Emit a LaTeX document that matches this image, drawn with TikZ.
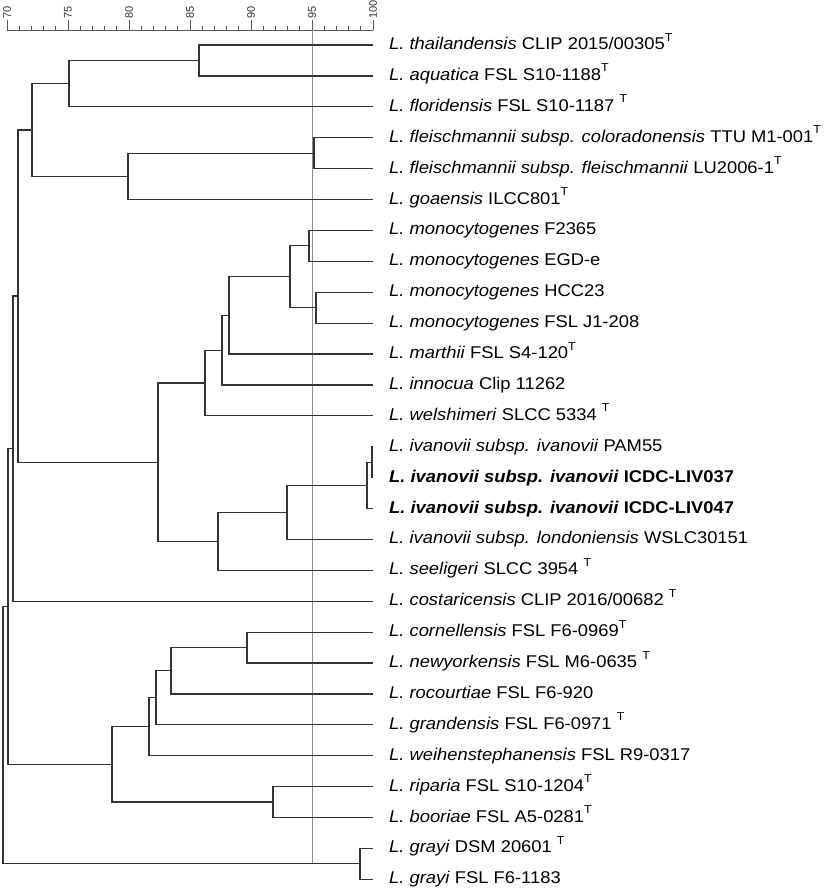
\documentclass[tikz,border=0pt]{standalone}
\usepackage{fontspec}
\setmainfont[FakeStretch=1.08]{Liberation Sans}
\newfontfamily\scalefont{Liberation Sans}
\usetikzlibrary{calc}
\newcommand\supT{\raisebox{8.5pt}{\fontsize{11.5}{12}\selectfont T}}
\newcommand\joinat[4]{%
  \coordinate (#1-m) at ($(#3)!0.5!(#4)$);
  \coordinate (#1-x) at (#2,0);
  \coordinate (#1) at (#1-x |- #1-m);
  \draw[br] (#3) -| (#1) |- (#4);}
\begin{document}
\begin{tikzpicture}[x=1pt,y=-1pt,
  br/.style={draw=black!80,line width=1.2pt},
  lab/.style={anchor=base west,inner sep=0pt,font=\fontsize{17}{20}\selectfont},
  axisline/.style={draw=black!65,line width=0.8pt},
  tick/.style={draw=black!65,line width=0.8pt},
  ticklab/.style={rotate=90,anchor=west,inner sep=0pt,font=\scalefont\fontsize{11}{12}\selectfont,text=black!80},
  refline/.style={draw=black!45,line width=0.9pt}]
\useasboundingbox (0,0) rectangle (829,892);
% scale
\coordinate (axL) at (7,30);
\coordinate (axR) at (373,30);
\draw[axisline] (axL) -- (axR);
\foreach \s in {70,...,100}{
  \pgfmathsetmacro{\xx}{7+(\s-70)*12.2}
  \draw[tick] (\xx,26) -- (\xx,30);
}
\foreach \s in {70,75,...,100}{
  \pgfmathsetmacro{\xx}{7+(\s-70)*12.2}
  \draw[tick] (\xx,20) -- (\xx,30);
  \node[ticklab] (tl\s) at (\xx,19) {\s};
}
% reference line at 95
\coordinate (rtop) at (312,30);
\coordinate (rbot) at (312,864);
\draw[refline] (rtop) -- (rbot);
% leaves
\foreach \i in {0,...,27}{
  \coordinate (l\i) at (373,{45+30.9*\i});
}
\newcommand\lb[2]{\node[lab] (t#1) at ($(l#1)+(16,4.5)$) {#2};}
\lb{0}{\textit{L. thailandensis} CLIP 2015/00305\supT}
\lb{1}{\textit{L. aquatica} FSL S10-1188\supT}
\lb{2}{\textit{L. floridensis} FSL S10-1187 \supT}
\lb{3}{\textit{L. fleischmannii subsp. coloradonensis} TTU M1-001\supT}
\lb{4}{\textit{L. fleischmannii subsp. fleischmannii} LU2006-1\supT}
\lb{5}{\textit{L. goaensis} ILCC801\supT}
\lb{6}{\textit{L. monocytogenes} F2365}
\lb{7}{\textit{L. monocytogenes} EGD-e}
\lb{8}{\textit{L. monocytogenes} HCC23}
\lb{9}{\textit{L. monocytogenes} FSL J1-208}
\lb{10}{\textit{L. marthii} FSL S4-120\supT}
\lb{11}{\textit{L. innocua} Clip 11262}
\lb{12}{\textit{L. welshimeri} SLCC 5334 \supT}
\lb{13}{\textit{L. ivanovii subsp. ivanovii} PAM55}
\lb{14}{\bfseries\textit{L. ivanovii subsp. ivanovii} ICDC-LIV037}
\lb{15}{\bfseries\textit{L. ivanovii subsp. ivanovii} ICDC-LIV047}
\lb{16}{\textit{L. ivanovii subsp. londoniensis} WSLC30151}
\lb{17}{\textit{L. seeligeri} SLCC 3954 \supT}
\lb{18}{\textit{L. costaricensis} CLIP 2016/00682 \supT}
\lb{19}{\textit{L. cornellensis} FSL F6-0969\supT}
\lb{20}{\textit{L. newyorkensis} FSL M6-0635 \supT}
\lb{21}{\textit{L. rocourtiae} FSL F6-920}
\lb{22}{\textit{L. grandensis} FSL F6-0971 \supT}
\lb{23}{\textit{L. weihenstephanensis} FSL R9-0317}
\lb{24}{\textit{L. riparia} FSL S10-1204\supT}
\lb{25}{\textit{L. booriae} FSL A5-0281\supT}
\lb{26}{\textit{L. grayi} DSM 20601 \supT}
\lb{27}{\textit{L. grayi} FSL F6-1183}
% tree
\joinat{n01}{199}{l0}{l1}
\joinat{n012}{69}{n01}{l2}
\joinat{n34}{314}{l3}{l4}
\joinat{n345}{128}{n34}{l5}
\joinat{nA}{32}{n012}{n345}
\joinat{n67}{309}{l6}{l7}
\joinat{n89}{316}{l8}{l9}
\joinat{n69}{290}{n67}{n89}
\joinat{n610}{229}{n69}{l10}
\joinat{n611}{222}{n610}{l11}
\joinat{n612}{205}{n611}{l12}
\joinat{n1314}{372}{l13}{l14}
\joinat{n1315}{367}{n1314}{l15}
\joinat{n1316}{287}{n1315}{l16}
\joinat{n1317}{218}{n1316}{l17}
\joinat{nM}{158}{n612}{n1317}
\joinat{nB}{18}{nA}{nM}
\joinat{nC}{13}{nB}{l18}
\joinat{n1920}{247}{l19}{l20}
\joinat{n1921}{171}{n1920}{l21}
\joinat{n1922}{156}{n1921}{l22}
\joinat{n1923}{149}{n1922}{l23}
\joinat{n2425}{273}{l24}{l25}
\joinat{nD}{112}{n1923}{n2425}
\joinat{nE}{8}{nC}{nD}
\joinat{n2627}{360}{l26}{l27}
\joinat{root}{3}{nE}{n2627}
\end{tikzpicture}
\end{document}
